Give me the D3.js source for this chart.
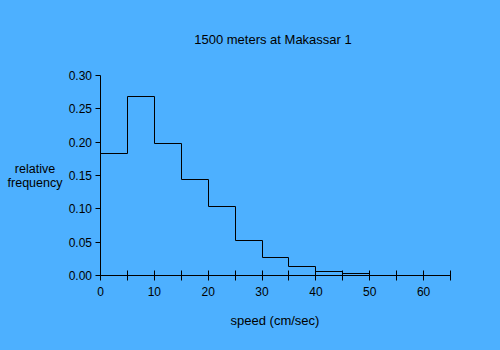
<!DOCTYPE html>
<html>
<head>
<meta charset="utf-8">
<script src="https://cdn.jsdelivr.net/npm/d3@7"></script>
<style>
  html, body { margin: 0; padding: 0; background: #4db0ff; }
  svg { display: block; font-family: "Liberation Sans", Arial, sans-serif; }
</style>
</head>
<body>
<div id="chart"></div>
<script>
// Data
const binStarts = [0, 5, 10, 15, 20, 25, 30, 35, 40, 45];
const binWidth = 5;
const frequencies = [0.183, 0.268, 0.198, 0.144, 0.103, 0.052, 0.027, 0.013, 0.006, 0.0025];
const xTicks = [0, 5, 10, 15, 20, 25, 30, 35, 40, 45, 50, 55, 60, 65];
const xTickLabels = [0, 10, 20, 30, 40, 50, 60];
const yTicks = [0, 0.05, 0.10, 0.15, 0.20, 0.25, 0.30];

const width = 500, height = 350;

const svg = d3.select("#chart").append("svg")
    .attr("width", width)
    .attr("height", height);

svg.append("rect")
    .attr("width", width)
    .attr("height", height)
    .attr("fill", "#4db0ff");

const x = d3.scaleLinear().domain([0, 65]).range([100.5, 450.5]);
const y = d3.scaleLinear().domain([0, 0.3]).range([275.5, 75.5]);
const snap = v => Math.round(v - 0.5) + 0.5;

// Title
svg.append("text")
    .attr("x", 273)
    .attr("y", 44)
    .attr("text-anchor", "middle")
    .style("font-size", "13px")
    .text("1500 meters at Makassar 1");

// Y axis
const yAxis = svg.append("g");
yAxis.append("line")
    .attr("x1", x(0)).attr("x2", x(0))
    .attr("y1", y(0.3)).attr("y2", y(0))
    .attr("stroke", "black");
yAxis.selectAll("line.tick").data(yTicks).join("line")
    .attr("class", "tick")
    .attr("x1", x(0) - 5).attr("x2", x(0))
    .attr("y1", d => snap(y(d))).attr("y2", d => snap(y(d)))
    .attr("stroke", "black");
yAxis.selectAll("text").data(yTicks).join("text")
    .attr("x", 92)
    .attr("y", d => y(d) + 4.5)
    .attr("text-anchor", "end")
    .style("font-size", "12px")
    .text(d => d3.format(".2f")(d));

// X axis
const xAxis = svg.append("g");
xAxis.append("line")
    .attr("x1", x(0)).attr("x2", x(65))
    .attr("y1", y(0)).attr("y2", y(0))
    .attr("stroke", "black");
xAxis.selectAll("line.tick").data(xTicks).join("line")
    .attr("class", "tick")
    .attr("x1", d => snap(x(d))).attr("x2", d => snap(x(d)))
    .attr("y1", y(0) - 5).attr("y2", y(0) + 5)
    .attr("stroke", "black");
xAxis.selectAll("text").data(xTickLabels).join("text")
    .attr("x", d => x(d))
    .attr("y", y(0) + 20)
    .attr("text-anchor", "middle")
    .style("font-size", "12px")
    .text(d => d);

// Histogram step outline
const line = d3.line();
binStarts.forEach((s, i) => {
    const next = i < binStarts.length - 1 ? frequencies[i + 1] : 0;
    const top = snap(y(frequencies[i]));
    svg.append("path")
        .attr("d", line([[snap(x(s)), top], [snap(x(s + binWidth)), top],
                         [snap(x(s + binWidth)), snap(y(next))]]))
        .attr("stroke", "black").attr("fill", "none");
});

// Axis titles
svg.append("text")
    .attr("x", 275)
    .attr("y", 325)
    .attr("text-anchor", "middle")
    .style("font-size", "13px")
    .text("speed (cm/sec)");

const yLabel = svg.append("text")
    .attr("text-anchor", "middle")
    .style("font-size", "12.5px");
yLabel.append("tspan").attr("x", 35).attr("y", 173).text("relative");
yLabel.append("tspan").attr("x", 35).attr("y", 187).text("frequency");
</script>
</body>
</html>
